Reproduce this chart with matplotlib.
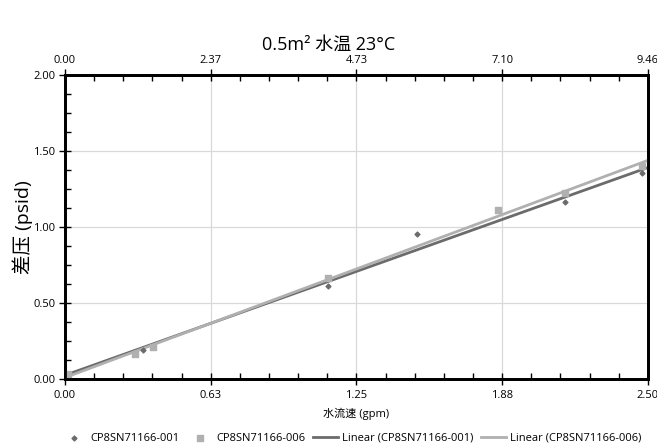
import numpy as np
import matplotlib.pyplot as plt
from matplotlib.ticker import MultipleLocator, FixedLocator

plt.rcParams['font.family'] = ['Open Sans', 'Noto Sans CJK SC', 'DejaVu Sans']

# flow (gpm) vs differential pressure (psid)
x_001 = [0.0, 0.335, 1.128, 1.51, 2.144, 2.474]
y_001 = [0.02, 0.19, 0.61, 0.954, 1.165, 1.355]
x_006 = [0.013, 0.30, 0.378, 1.128, 1.857, 2.144, 2.474]
y_006 = [0.03, 0.165, 0.21, 0.664, 1.11, 1.225, 1.40]

names = ['CP8SN71166-001', 'CP8SN71166-006']
x_ticks = [0.0, 0.625, 1.25, 1.875, 2.5]
bottom_labels = ['0.00', '0.63', '1.25', '1.88', '2.50']
top_labels = ['0.00', '2.37', '4.73', '7.10', '9.46']
dark, light = '#6b6b6b', '#b0b0b0'


def main():
    fig = plt.figure(figsize=(6.57, 4.48), dpi=100)
    ax = fig.add_axes([0.099, 0.154, 0.887, 0.679])

    # trend lines
    xs = np.array([0.0, 2.5])
    for xd, yd, c, n in [(x_001, y_001, dark, names[0]), (x_006, y_006, light, names[1])]:
        k, b = np.polyfit(xd, yd, 1)
        ax.plot(xs, k * xs + b, color=c, lw=2, label='Linear (%s)' % n, zorder=3)

    ax.scatter(x_001, y_001, marker='D', s=6, color=dark, label=names[0], zorder=4)
    ax.scatter(x_006, y_006, marker='s', s=22, color=light, label=names[1], zorder=4)

    ax.set_xlim(0, 2.5)
    ax.set_ylim(0, 2.0)
    ax.xaxis.set_major_locator(FixedLocator(x_ticks))
    ax.set_xticklabels(bottom_labels)
    ax.xaxis.set_minor_locator(MultipleLocator(0.125))
    ax.yaxis.set_major_locator(MultipleLocator(0.5))
    ax.yaxis.set_minor_locator(MultipleLocator(0.125))
    ax.yaxis.set_major_formatter('{x:.2f}')
    ax.grid(True, which='major', color='#d9d9d9', lw=0.9, zorder=0)
    ax.set_axisbelow(True)
    for s in ax.spines.values():
        s.set_linewidth(2)
    ax.tick_params(which='major', direction='inout', length=8, width=1, labelsize=8, pad=4)
    ax.tick_params(which='minor', direction='in', length=4, width=1)
    ax.tick_params(axis='y', right=False, pad=3)

    ax.set_xlabel('水流速 (gpm)', fontsize=8, labelpad=5)
    ax.set_ylabel('差压 (psid)', fontsize=14)
    ax.yaxis.set_label_coords(-0.055, 0.5)

    top = ax.twiny()
    top.set_xlim(0, 2.5)
    top.xaxis.set_major_locator(FixedLocator(x_ticks))
    top.set_xticklabels(top_labels)
    top.xaxis.set_minor_locator(MultipleLocator(0.125))
    top.tick_params(which='major', direction='inout', length=8, width=1, labelsize=8, pad=2)
    top.tick_params(which='minor', direction='in', length=4, width=1)
    for s in top.spines.values():
        s.set_linewidth(2)

    fig.text(0.5, 0.9, '0.5m² 水温 23°C', fontsize=13, ha='center', va='center')

    h, l = ax.get_legend_handles_labels()
    order = [2, 3, 0, 1]
    fig.legend([h[i] for i in order], [l[i] for i in order], loc='lower center',
               ncol=4, frameon=False, fontsize=8, bbox_to_anchor=(0.535, -0.013),
               handlelength=2.2, columnspacing=0.7, handletextpad=0.4)

    fig.savefig('out.png', dpi=100)


if __name__ == '__main__':
    main()
